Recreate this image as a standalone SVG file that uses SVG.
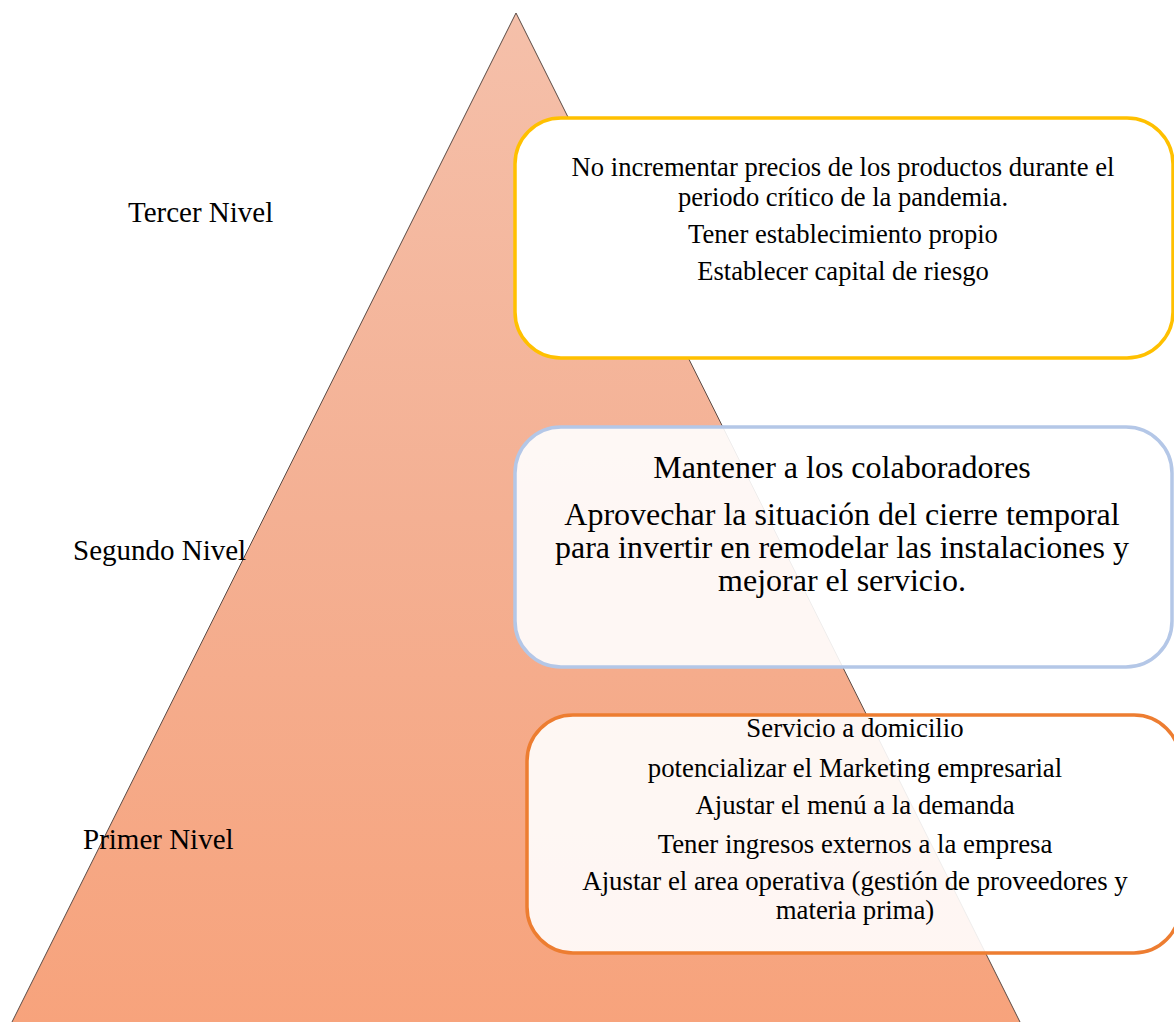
<svg xmlns="http://www.w3.org/2000/svg" width="1174" height="1022" viewBox="0 0 1174 1022">
  <defs>
    <linearGradient id="pyramidFill" x1="0" y1="0" x2="0" y2="1">
      <stop offset="0" stop-color="#F5C0AA"/>
      <stop offset="0.5" stop-color="#F4B093"/>
      <stop offset="1" stop-color="#F7A37C"/>
    </linearGradient>
  </defs>
  <style>
    text { font-family: "Liberation Serif", "Times New Roman", serif; fill: #000; }
    .level { font-size: 29px; }
    .box { stroke-width: 3.5; }
    .t1 { font-size: 26.6px; text-anchor: middle; }
    .t2 { font-size: 32px; text-anchor: middle; }
    .t3 { font-size: 26.8px; text-anchor: middle; }
  </style>

  <rect width="1174" height="1022" fill="#FFFFFF"/>

  <!-- pyramid -->
  <g id="pyramid">
    <polygon points="516,13 11,1024 1021,1024" fill="url(#pyramidFill)" stroke="#5A4A44" stroke-width="1"/>
  </g>

  <!-- level labels -->
  <g id="label-tercer"><text class="level" x="128" y="222">Tercer Nivel</text></g>
  <g id="label-segundo"><text class="level" x="73" y="560">Segundo Nivel</text></g>
  <g id="label-primer"><text class="level" x="83" y="849">Primer Nivel</text></g>

  <!-- connectors (none drawn) -->
  <g id="connectors"/>

  <!-- third level box -->
  <g id="box-tercer">
    <rect class="box" x="515" y="118" width="658" height="240" rx="46" fill="#FFFFFF" stroke="#FFC000"/>
    <text class="t1" x="843" y="176">No incrementar precios de los productos durante el</text>
    <text class="t1" x="843" y="206">periodo crítico de la pandemia.</text>
    <text class="t1" x="843" y="243">Tener establecimiento propio</text>
    <text class="t1" x="843" y="280">Establecer capital de riesgo</text>
  </g>

  <!-- second level box -->
  <g id="box-segundo">
    <rect class="box" x="515" y="427" width="657" height="240" rx="46" fill="#FFFFFF" fill-opacity="0.9" stroke="#B4C7E7"/>
    <text class="t2" x="842" y="478">Mantener a los colaboradores</text>
    <text class="t2" x="842" y="525">Aprovechar la situación del cierre temporal</text>
    <text class="t2" x="842" y="558">para invertir en remodelar las instalaciones y</text>
    <text class="t2" x="842" y="591">mejorar el servicio.</text>
  </g>

  <!-- first level box -->
  <g id="box-primer">
    <rect class="box" x="527" y="715" width="653" height="238" rx="46" fill="#FFFFFF" fill-opacity="0.9" stroke="#ED7D31"/>
    <text class="t3" x="855" y="737">Servicio a domicilio</text>
    <text class="t3" x="855" y="777">potencializar el Marketing empresarial</text>
    <text class="t3" x="855" y="814">Ajustar el menú a la demanda</text>
    <text class="t3" x="855" y="853">Tener ingresos externos a la empresa</text>
    <text class="t3" x="855" y="890">Ajustar el area operativa (gestión de proveedores y</text>
    <text class="t3" x="855" y="919">materia prima)</text>
  </g>
</svg>
